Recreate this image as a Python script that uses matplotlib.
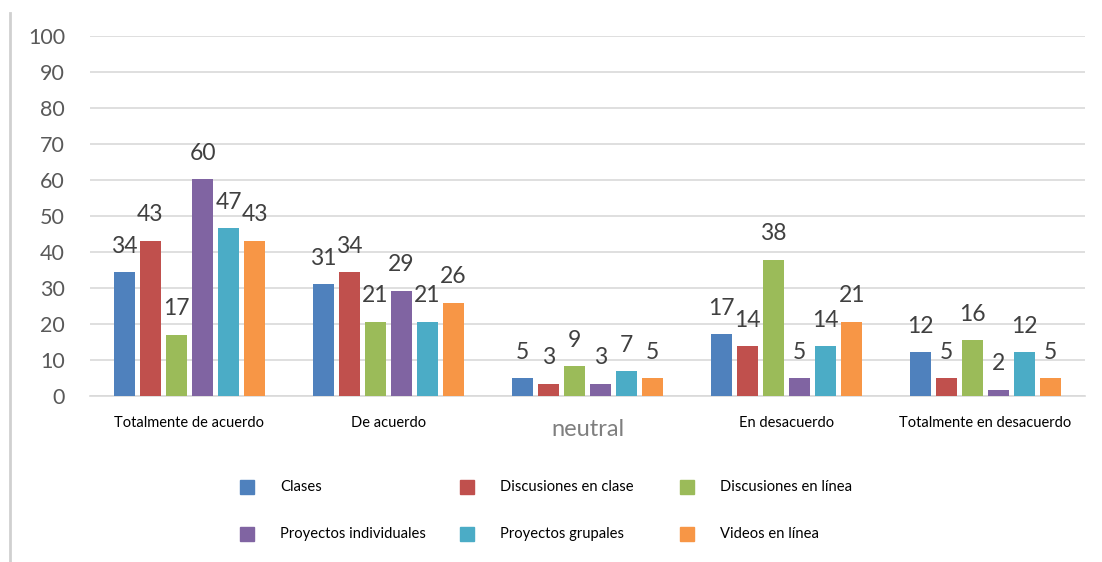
import matplotlib
matplotlib.use("Agg")
import matplotlib.pyplot as plt
import numpy as np
from matplotlib.patches import Rectangle
from matplotlib.lines import Line2D

plt.rcParams["font.family"] = ["Lato", "DejaVu Sans"]

categories = ["Totalmente de acuerdo", "De acuerdo", "neutral",
              "En desacuerdo", "Totalmente en desacuerdo"]
series = ["Clases", "Discusiones en clase", "Discusiones en línea",
          "Proyectos individuales", "Proyectos grupales", "Videos en línea"]
colors = ["#4F81BD", "#C0504D", "#9BBB59", "#8064A2", "#4BACC6", "#F79646"]

# bar heights (per series, across categories)
clases      = [34.4, 31.1, 5.0, 17.1, 12.1]
disc_clase  = [43.1, 34.4, 3.4, 13.8, 5.0]
disc_linea  = [17.0, 20.6, 8.3, 37.9, 15.5]
proy_ind    = [60.3, 29.2, 3.4, 5.0, 1.7]
proy_grup   = [46.6, 20.6, 6.9, 13.8, 12.1]
videos      = [43.1, 25.9, 5.0, 20.6, 5.0]
values = [clases, disc_clase, disc_linea, proy_ind, proy_grup, videos]

# printed data labels
labels = [[34, 31, 5, 17, 12],
          [43, 34, 3, 14, 5],
          [17, 21, 9, 38, 16],
          [60, 29, 3, 5, 2],
          [47, 21, 7, 14, 12],
          [43, 26, 5, 21, 5]]

GRID = "#d9d9d9"
TICK = "#595959"
LBL = "#404040"

fig = plt.figure(figsize=(11.02, 5.62), dpi=100)
ax = fig.add_axes([90 / 1102, 1 - 396 / 562, 995 / 1102, 360 / 562])

x = np.arange(len(categories))
step = 0.131
width = 0.106
for i, (vals, col) in enumerate(zip(values, colors)):
    pos = x + (i - 2.5) * step
    ax.bar(pos, vals, width=width, color=col, zorder=3)
    for p, v, t in zip(pos, vals, labels[i]):
        ax.text(p, v + 7.2, str(t), ha="center", va="center",
                fontsize=16.5, color=LBL, zorder=4)

ax.set_xlim(-0.5, len(categories) - 0.5)
ax.set_ylim(0, 100)
ax.set_yticks(range(0, 101, 10))
ax.tick_params(axis="y", length=0, labelsize=15.5, labelcolor=TICK, pad=18)
ax.set_xticks([])
ax.yaxis.grid(True, color=GRID, linewidth=1.2, zorder=0)
for s in ["top", "right", "left"]:
    ax.spines[s].set_visible(False)
ax.spines["bottom"].set_color(GRID)
ax.spines["bottom"].set_linewidth(1.2)

# category labels
for xi, c in zip(x, categories):
    if c == "neutral":
        ax.text(xi, -9.3, c, ha="center", va="center", fontsize=17,
                color="#7f7f7f", clip_on=False)
    else:
        ax.text(xi, -7.4, c, ha="center", va="center", fontsize=10.5,
                color="black", clip_on=False)

# legend (row-major, 3 columns)
col_x = [247, 467, 687]
row_y = [487, 534]
for i, (name, col) in enumerate(zip(series, colors)):
    cx = col_x[i % 3]
    cy = row_y[i // 3]
    fig.patches.append(Rectangle(((cx - 7) / 1102, 1 - (cy + 7) / 562),
                                 14 / 1102, 14 / 562, color=col,
                                 transform=fig.transFigure))
    fig.text((cx + 33) / 1102, 1 - cy / 562, name, ha="left", va="center",
             fontsize=10.6, color="black")

# left frame line
fig.add_artist(Line2D([10 / 1102, 10 / 1102], [1 - 13 / 562, 0],
                      color="#d0d0d0", linewidth=2, transform=fig.transFigure))

fig.savefig("out.png", dpi=100, facecolor="white")
